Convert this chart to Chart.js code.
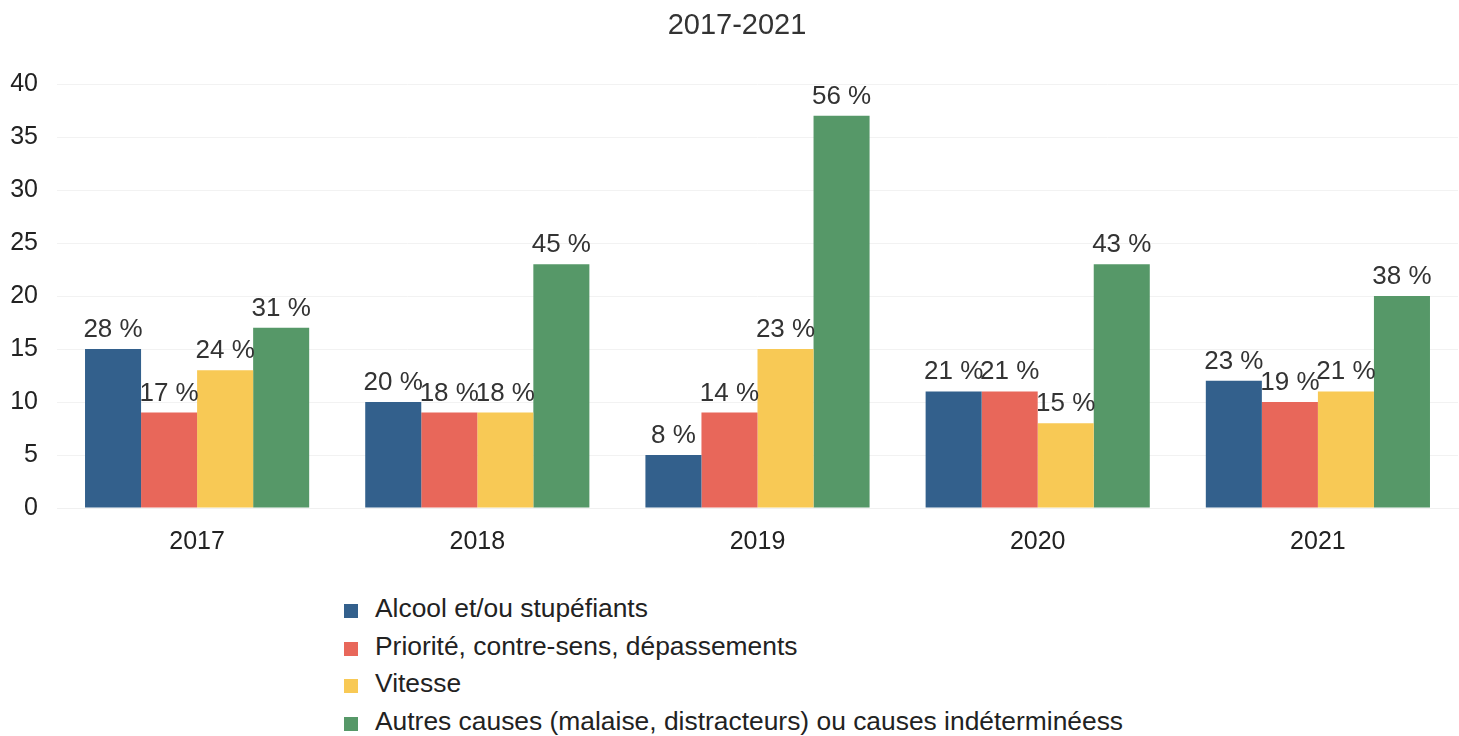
<!DOCTYPE html>
<html lang="fr">
<head>
<meta charset="utf-8">
<title>2017-2021</title>
<script src="https://cdn.jsdelivr.net/npm/chart.js@4/dist/chart.umd.min.js"></script>
<style>
  html, body { margin: 0; padding: 0; background: #ffffff; }
  body { width: 1459px; height: 736px; position: relative; overflow: hidden;
         font-family: "Liberation Sans", Arial, sans-serif; }
  #wrap { position: absolute; left: 0; top: 0; width: 1459px; height: 580px; }
  #legend { position: absolute; left: 344px; top: 590px; margin: 0; padding: 0; list-style: none; }
  #legend li { height: 37.5px; line-height: 37.5px; font-size: 26.4px; color: #222; white-space: nowrap; }
  #legend .sw { display: inline-block; width: 14px; height: 14px; margin-right: 17px; vertical-align: -1px; }
</style>
</head>
<body>
<div id="wrap"><canvas id="chart" width="1459" height="580"></canvas></div>
<ul id="legend"></ul>
<script>
// Years on the x axis
const years = ['2017', '2018', '2019', '2020', '2021'];

// Counts per cause and year
const alcool   = [15, 10, 5, 11, 12];
const priorite = [9, 9, 9, 11, 10];
const vitesse  = [13, 9, 15, 8, 11];
const autres   = [17, 23, 37, 23, 20];

// Share of each cause within its year, printed above the bars
const alcoolPct   = ['28 %', '20 %', '8 %', '21 %', '23 %'];
const prioritePct = ['17 %', '18 %', '14 %', '21 %', '19 %'];
const vitessePct  = ['24 %', '18 %', '23 %', '15 %', '21 %'];
const autresPct   = ['31 %', '45 %', '56 %', '43 %', '38 %'];

// Series names
const seriesNames = [
  'Alcool et/ou stupéfiants',
  'Priorité, contre-sens, dépassements',
  'Vitesse',
  'Autres causes (malaise, distracteurs) ou causes indéterminéess'
];

// Y axis ticks
const yTicks = [0, 5, 10, 15, 20, 25, 30, 35, 40];

const colors = ['#33608c', '#e8675a', '#f8c955', '#569868'];
const FONT = '"Liberation Sans", Arial, sans-serif';

const seriesValues = [alcool, priorite, vitesse, autres];
const seriesLabels = [alcoolPct, prioritePct, vitessePct, autresPct];

// Draws the percentage text centred above every bar
const barLabels = {
  id: 'barLabels',
  afterDatasetsDraw(chart) {
    const ctx = chart.ctx;
    ctx.save();
    ctx.font = '26px ' + FONT;
    ctx.fillStyle = '#333333';
    ctx.textAlign = 'center';
    ctx.textBaseline = 'alphabetic';
    chart.data.datasets.forEach((ds, di) => {
      const meta = chart.getDatasetMeta(di);
      meta.data.forEach((bar, i) => {
        ctx.fillText(ds.pctLabels[i], bar.x, bar.y - 12);
      });
    });
    ctx.restore();
  }
};

// Centres the title over the span that starts at the tick labels
const titleSpan = {
  id: 'titleSpan',
  afterLayout(chart) {
    if (chart.titleBlock) chart.titleBlock.left += 16;
  }
};

const chart = new Chart(document.getElementById('chart'), {
  type: 'bar',
  data: {
    labels: years,
    datasets: seriesNames.map((name, k) => ({
      label: name,
      data: seriesValues[k],
      pctLabels: seriesLabels[k],
      backgroundColor: colors[k],
      borderWidth: 0,
      categoryPercentage: 0.8,
      barPercentage: 1.0
    }))
  },
  options: {
    responsive: false,
    animation: false,
    layout: { padding: { left: 0, right: 1, top: 0, bottom: 4 } },
    plugins: {
      legend: { display: false },
      tooltip: { enabled: false },
      title: {
        display: true,
        text: '2017-2021',
        color: '#333333',
        font: { family: FONT, size: 29, weight: 'normal' },
        padding: { top: 9, bottom: 40.2 }
      }
    },
    scales: {
      x: {
        grid: { display: false, drawTicks: false },
        border: { display: true, color: '#f0f0f0' },
        ticks: { color: '#222222', font: { family: FONT, size: 25 }, padding: 19 }
      },
      y: {
        min: 0,
        max: 40,
        afterBuildTicks(scale) { scale.ticks = yTicks.map(v => ({ value: v })); },
        afterFit(scale) { scale.width = 57; },
        grid: { color: '#f2f2f2', drawTicks: false },
        border: { display: false },
        ticks: { color: '#222222', font: { family: FONT, size: 25 }, padding: 19 }
      }
    }
  },
  plugins: [barLabels, titleSpan]
});

// Legend as a vertical list built from the chart's datasets
const legend = document.getElementById('legend');
chart.data.datasets.forEach(ds => {
  const li = document.createElement('li');
  const sw = document.createElement('span');
  sw.className = 'sw';
  sw.style.background = ds.backgroundColor;
  li.appendChild(sw);
  li.appendChild(document.createTextNode(ds.label));
  legend.appendChild(li);
});
</script>
</body>
</html>
